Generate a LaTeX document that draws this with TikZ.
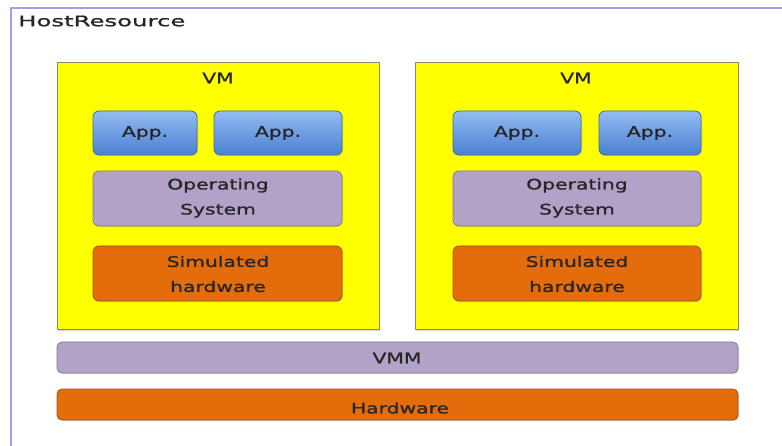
\documentclass[tikz,border=0pt]{standalone}
\usepackage{fontspec}
\newfontfamily\wide[FakeStretch=1.4,FakeBold=1.2]{DejaVu Sans}
\newfontfamily\wider[FakeStretch=1.68,FakeBold=1.2]{DejaVu Sans}
\usetikzlibrary{shadows}
\definecolor{frameblue}{HTML}{A0A0F2}
\definecolor{vmyellow}{HTML}{FFFF00}
\definecolor{vmborder}{HTML}{8C8C6A}
\definecolor{apptop}{HTML}{94BBF2}
\definecolor{appbot}{HTML}{4A80D2}
\definecolor{appborder}{HTML}{3E6EAE}
\definecolor{osfill}{HTML}{B3A2C7}
\definecolor{osborder}{HTML}{857A96}
\definecolor{hwfill}{HTML}{E46C0A}
\definecolor{hwborder}{HTML}{9C5020}
\tikzset{
  x=1pt, y=-1pt,
  txt/.style={font=\wide\fontsize{14.5}{25}\selectfont, text=black!85, align=center},
  hosttxt/.style={font=\wider\fontsize{14.5}{25}\selectfont, text=black!85},
  vmbox/.style={draw=vmborder, line width=1pt, fill=vmyellow, drop shadow={shadow xshift=1pt, shadow yshift=-1pt, opacity=0.3}},
  appbox/.style={draw=appborder, line width=0.8pt, rounded corners=6pt, top color=apptop, bottom color=appbot, drop shadow={shadow xshift=1pt, shadow yshift=-1pt, opacity=0.3}},
  osbox/.style={draw=osborder, line width=0.8pt, rounded corners=6pt, fill=osfill, drop shadow={shadow xshift=1pt, shadow yshift=-1pt, opacity=0.3}},
  hwbox/.style={draw=hwborder, line width=0.8pt, rounded corners=6pt, fill=hwfill, drop shadow={shadow xshift=1pt, shadow yshift=-1pt, opacity=0.3}},
}
\begin{document}
\begin{tikzpicture}
\useasboundingbox (0,0) rectangle (782,446);
\fill[white] (0,0) rectangle (782,446);
% host frame
\draw[frameblue, line width=1.2pt] (11,447) -- (11,8) -- (783,8);
\node[hosttxt, anchor=west, inner sep=0pt] (host) at (18,21) {HostResource};

% left VM
\path[vmbox] (57,63) rectangle (379,330);
\node[txt] (vm1) at (218,78) {VM};
\path[appbox] (93,111) rectangle (197,155);
\node[txt] (a11) at (145,133) {App.};
\path[appbox] (214,111) rectangle (342,155);
\node[txt] (a12) at (278,133) {App.};
\path[osbox] (93,171) rectangle (342,226);
\node[txt] (os1) at (218,198) {Operating\\System};
\path[hwbox] (93,246) rectangle (342,301);
\node[txt] (sh1) at (218,274) {Simulated\\hardware};

% right VM
\path[vmbox] (415,63) rectangle (738,330);
\node[txt] (vm2) at (576,78) {VM};
\path[appbox] (453,111) rectangle (581,155);
\node[txt] (a21) at (517,133) {App.};
\path[appbox] (599,111) rectangle (701,155);
\node[txt] (a22) at (650,133) {App.};
\path[osbox] (453,171) rectangle (701,226);
\node[txt] (os2) at (577,198) {Operating\\System};
\path[hwbox] (453,246) rectangle (701,301);
\node[txt] (sh2) at (577,274) {Simulated\\hardware};

% VMM and hardware
\path[osbox, rounded corners=5pt] (57,342) rectangle (738,373);
\node[txt] (vmm) at (397,358) {VMM};
\path[hwbox, rounded corners=5pt] (57,389) rectangle (738,420);
\node[txt] (hw) at (400,408) {Hardware};
\end{tikzpicture}
\end{document}
